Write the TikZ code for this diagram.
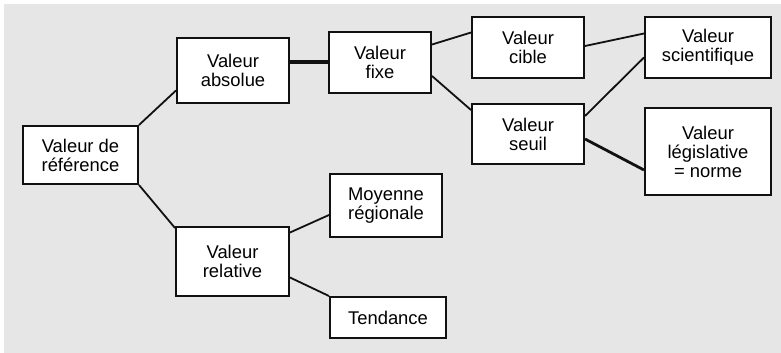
\documentclass[tikz,border=0pt]{standalone}
\usepackage{fontspec}
\setmainfont{Liberation Sans}
\usepackage{tikz}
\usetikzlibrary{positioning, calc}
\usepackage{xcolor}
\definecolor{vrefbg}{HTML}{E6E6E6}
\definecolor{vrefline}{HTML}{111111}
\tikzset{
  vbox/.style={draw=vrefline, line width=1pt, fill=white, align=center, inner sep=0pt,
    font=\fontsize{9.2}{9.5}\selectfont},
  vlink/.style={draw=vrefline, line width=0.9pt},
}

\begin{document}
\begin{tikzpicture}[x=0.5pt, y=-0.5pt]
\useasboundingbox (0,0) rectangle (781,353);
\fill[vrefbg] (4,4) rectangle (781,353);
% boxes
\node[vbox, minimum width=57.5pt, minimum height=29pt] (ref) at (80.5,155) {Valeur de\\référence};
\node[vbox, minimum width=56pt, minimum height=32.5pt] (abs) at (233,70.5) {Valeur\\absolue};
\node[vbox, minimum width=56.5pt, minimum height=34.5pt] (rel) at (232.5,261.5) {Valeur\\relative};
\node[vbox, minimum width=51pt, minimum height=30.5pt] (fixe) at (380,62.5) {Valeur\\fixe};
\node[vbox, minimum width=56pt, minimum height=31.5pt] (moy) at (386,205.5) {Moyenne\\régionale};
\node[vbox, minimum width=58pt, minimum height=20.5pt] (tend) at (388,317.5) {Tendance};
\node[vbox, minimum width=56pt, minimum height=30.5pt] (cible) at (528,47.5) {Valeur\\cible};
\node[vbox, minimum width=56pt, minimum height=30pt] (seuil) at (528,134) {Valeur\\seuil};
\node[vbox, minimum width=63pt, minimum height=30.5pt] (sci) at (708,47.5) {Valeur\\scientifique};
\node[vbox, minimum width=63pt, minimum height=43.5pt] (leg) at (708,151.5) {Valeur\\législative\\= norme};
% links
\draw[vlink] (ref.north east) -- ([yshift=-10pt]abs.west);
\draw[vlink] (ref.south east) -- ([yshift=-1pt]rel.north west);
\draw[vlink, line width=2pt] (abs.east |- fixe.west) -- (fixe.west);
\draw[vlink] ([yshift=9pt]fixe.east) -- ([yshift=7.5pt]cible.west);
\draw[vlink] ([yshift=-6.75pt]fixe.east) -- ([yshift=12pt]seuil.west);
\draw[vlink] ([yshift=0.75pt]cible.east) -- ([yshift=7pt]sci.west);
\draw[vlink] ([yshift=9pt]seuil.east) -- ([yshift=-5pt]sci.west);
\draw[vlink, line width=1.4pt] ([yshift=-2.5pt]seuil.east) -- ([yshift=-9.25pt]leg.west);
\draw[vlink] ([yshift=14.5pt]rel.east) -- ([yshift=-4.75pt]moy.west);
\draw[vlink] ([yshift=-8pt]rel.east) -- (tend.north west);
\end{tikzpicture}
\end{document}
